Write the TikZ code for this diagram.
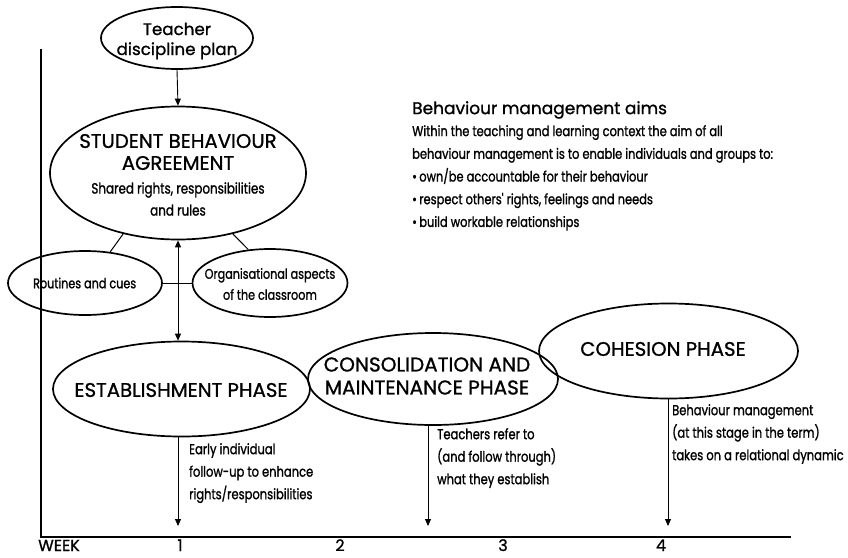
\documentclass[tikz,border=0pt]{standalone}
\usepackage{fontspec}
\setmainfont{Poppins}[FakeBold=1]
\newfontfamily\cond{Poppins}[FakeStretch=0.8,FakeBold=1.2]
\usetikzlibrary{shapes.geometric,arrows.meta}
\tikzset{
  bubble/.style={ellipse,draw,line width=1.7pt,inner sep=0pt},
  txt/.style={align=center,inner sep=0pt},
  conn/.style={line width=1pt},
  arr/.style={line width=0.9pt,-{Triangle[length=7pt,width=6pt]}},
  axis/.style={line width=1.4pt},
  note/.style={anchor=north west,align=left,inner sep=0pt,font=\cond\fontsize{14.4}{22.5}\selectfont},
  phase/.style={txt,font=\fontsize{19.7}{23}\selectfont},
  wk/.style={font=\fontsize{16}{16}\selectfont,inner sep=0pt,anchor=base}
}
\begin{document}
\begin{tikzpicture}[x=1pt,y=-1pt]
\useasboundingbox (0,0) rectangle (848,557);
% axes
\coordinate (ytop) at (41,49);
\coordinate (orig) at (41,537);
\coordinate (xend) at (791,537);
\draw[axis] (ytop) -- (orig) -- (xend);
% ellipses
\node[bubble,minimum width=152pt,minimum height=62pt] (teacher) at (177,38) {};
\node[bubble,minimum width=256pt,minimum height=133pt] (agree) at (178,173) {};
\node[bubble,minimum width=154pt,minimum height=64pt] (routines) at (85,283) {};
\node[bubble,minimum width=155pt,minimum height=68pt] (org) at (270,283) {};
\node[bubble,minimum width=257pt,minimum height=95pt] (estab) at (181.5,389) {};
\node[bubble,minimum width=250pt,minimum height=92pt] (consol) at (433,379) {};
\node[bubble,minimum width=259pt,minimum height=95pt] (cohesion) at (668.5,351) {};
% texts
\node[txt,font=\fontsize{16.7}{20}\selectfont] (teachert) at (177,41) {Teacher\\discipline plan};
\node[txt,font=\fontsize{19.7}{22}\selectfont] (agreet) at (178,152) {STUDENT BEHAVIOUR\\AGREEMENT};
\node[txt,font=\cond\fontsize{14.9}{22}\selectfont] (agrees) at (178,199) {Shared rights, responsibilities\\and rules};
\node[txt,anchor=west,font=\cond\fontsize{14}{19}\selectfont] (routt) at (33,283) {Routines and cues};
\node[txt,font=\cond\fontsize{14}{21}\selectfont] (orgt) at (270,284) {Organisational aspects\\of the classroom};
\node[phase] (estabt) at (181,390) {ESTABLISHMENT PHASE};
\node[phase,font=\fontsize{20}{23}\selectfont] (consolt) at (427,376) {CONSOLIDATION AND\\MAINTENANCE PHASE};
\node[phase] (cohesiont) at (663,349) {COHESION PHASE};
% connectors
\draw[arr] (teacher.south) -- (agree.north);
\draw[conn] (agree.228) -- (routines.51);
\draw[conn] (agree.312) -- (org.123);
\draw[conn] (routines.east) -- (org.west);
\draw[line width=0.9pt,{Triangle[length=7pt,width=6pt]}-{Triangle[length=7pt,width=6pt]}] (agree.south) -- (agree.south |- estab.north);
\coordinate (w1) at (178,526);
\coordinate (w3) at (428,526);
\coordinate (w4) at (668,526);
\draw[arr] (w1 |- estab.south) -- (w1);
\draw[arr] (w3 |- consol.south) -- (w3);
\draw[arr] (w4 |- cohesion.south) -- (w4);
% notes
\node[note] (n1) at (189,443) {Early individual\\follow-up to enhance\\rights/responsibilities};
\node[note] (n3) at (437,428) {Teachers refer to\\(and follow through)\\what they establish};
\node[note] (n4) at (672,404) {Behaviour management\\(at this stage in the term)\\takes on a relational dynamic};
% aims
\node[anchor=north west,inner sep=0pt,font=\fontsize{17}{20}\selectfont] (aimsh) at (412,101) {Behaviour management aims};
\node[anchor=north west,inner sep=0pt,align=left,font=\cond\fontsize{14.3}{22.7}\selectfont] (aims) at (412,125) {Within the teaching and learning context the aim of all\\behaviour management is to enable individuals and groups to:\\\textbullet\,own/be accountable for their behaviour\\\textbullet\,respect others' rights, feelings and needs\\\textbullet\,build workable relationships};
% week labels
\node[wk,anchor=base west] (week) at (38,551) {WEEK};
\node[wk] (k1) at (180,551) {1};
\node[wk] (k2) at (340,551) {2};
\node[wk] (k3) at (503,551) {3};
\node[wk] (k4) at (661,551) {4};
\end{tikzpicture}
\end{document}
